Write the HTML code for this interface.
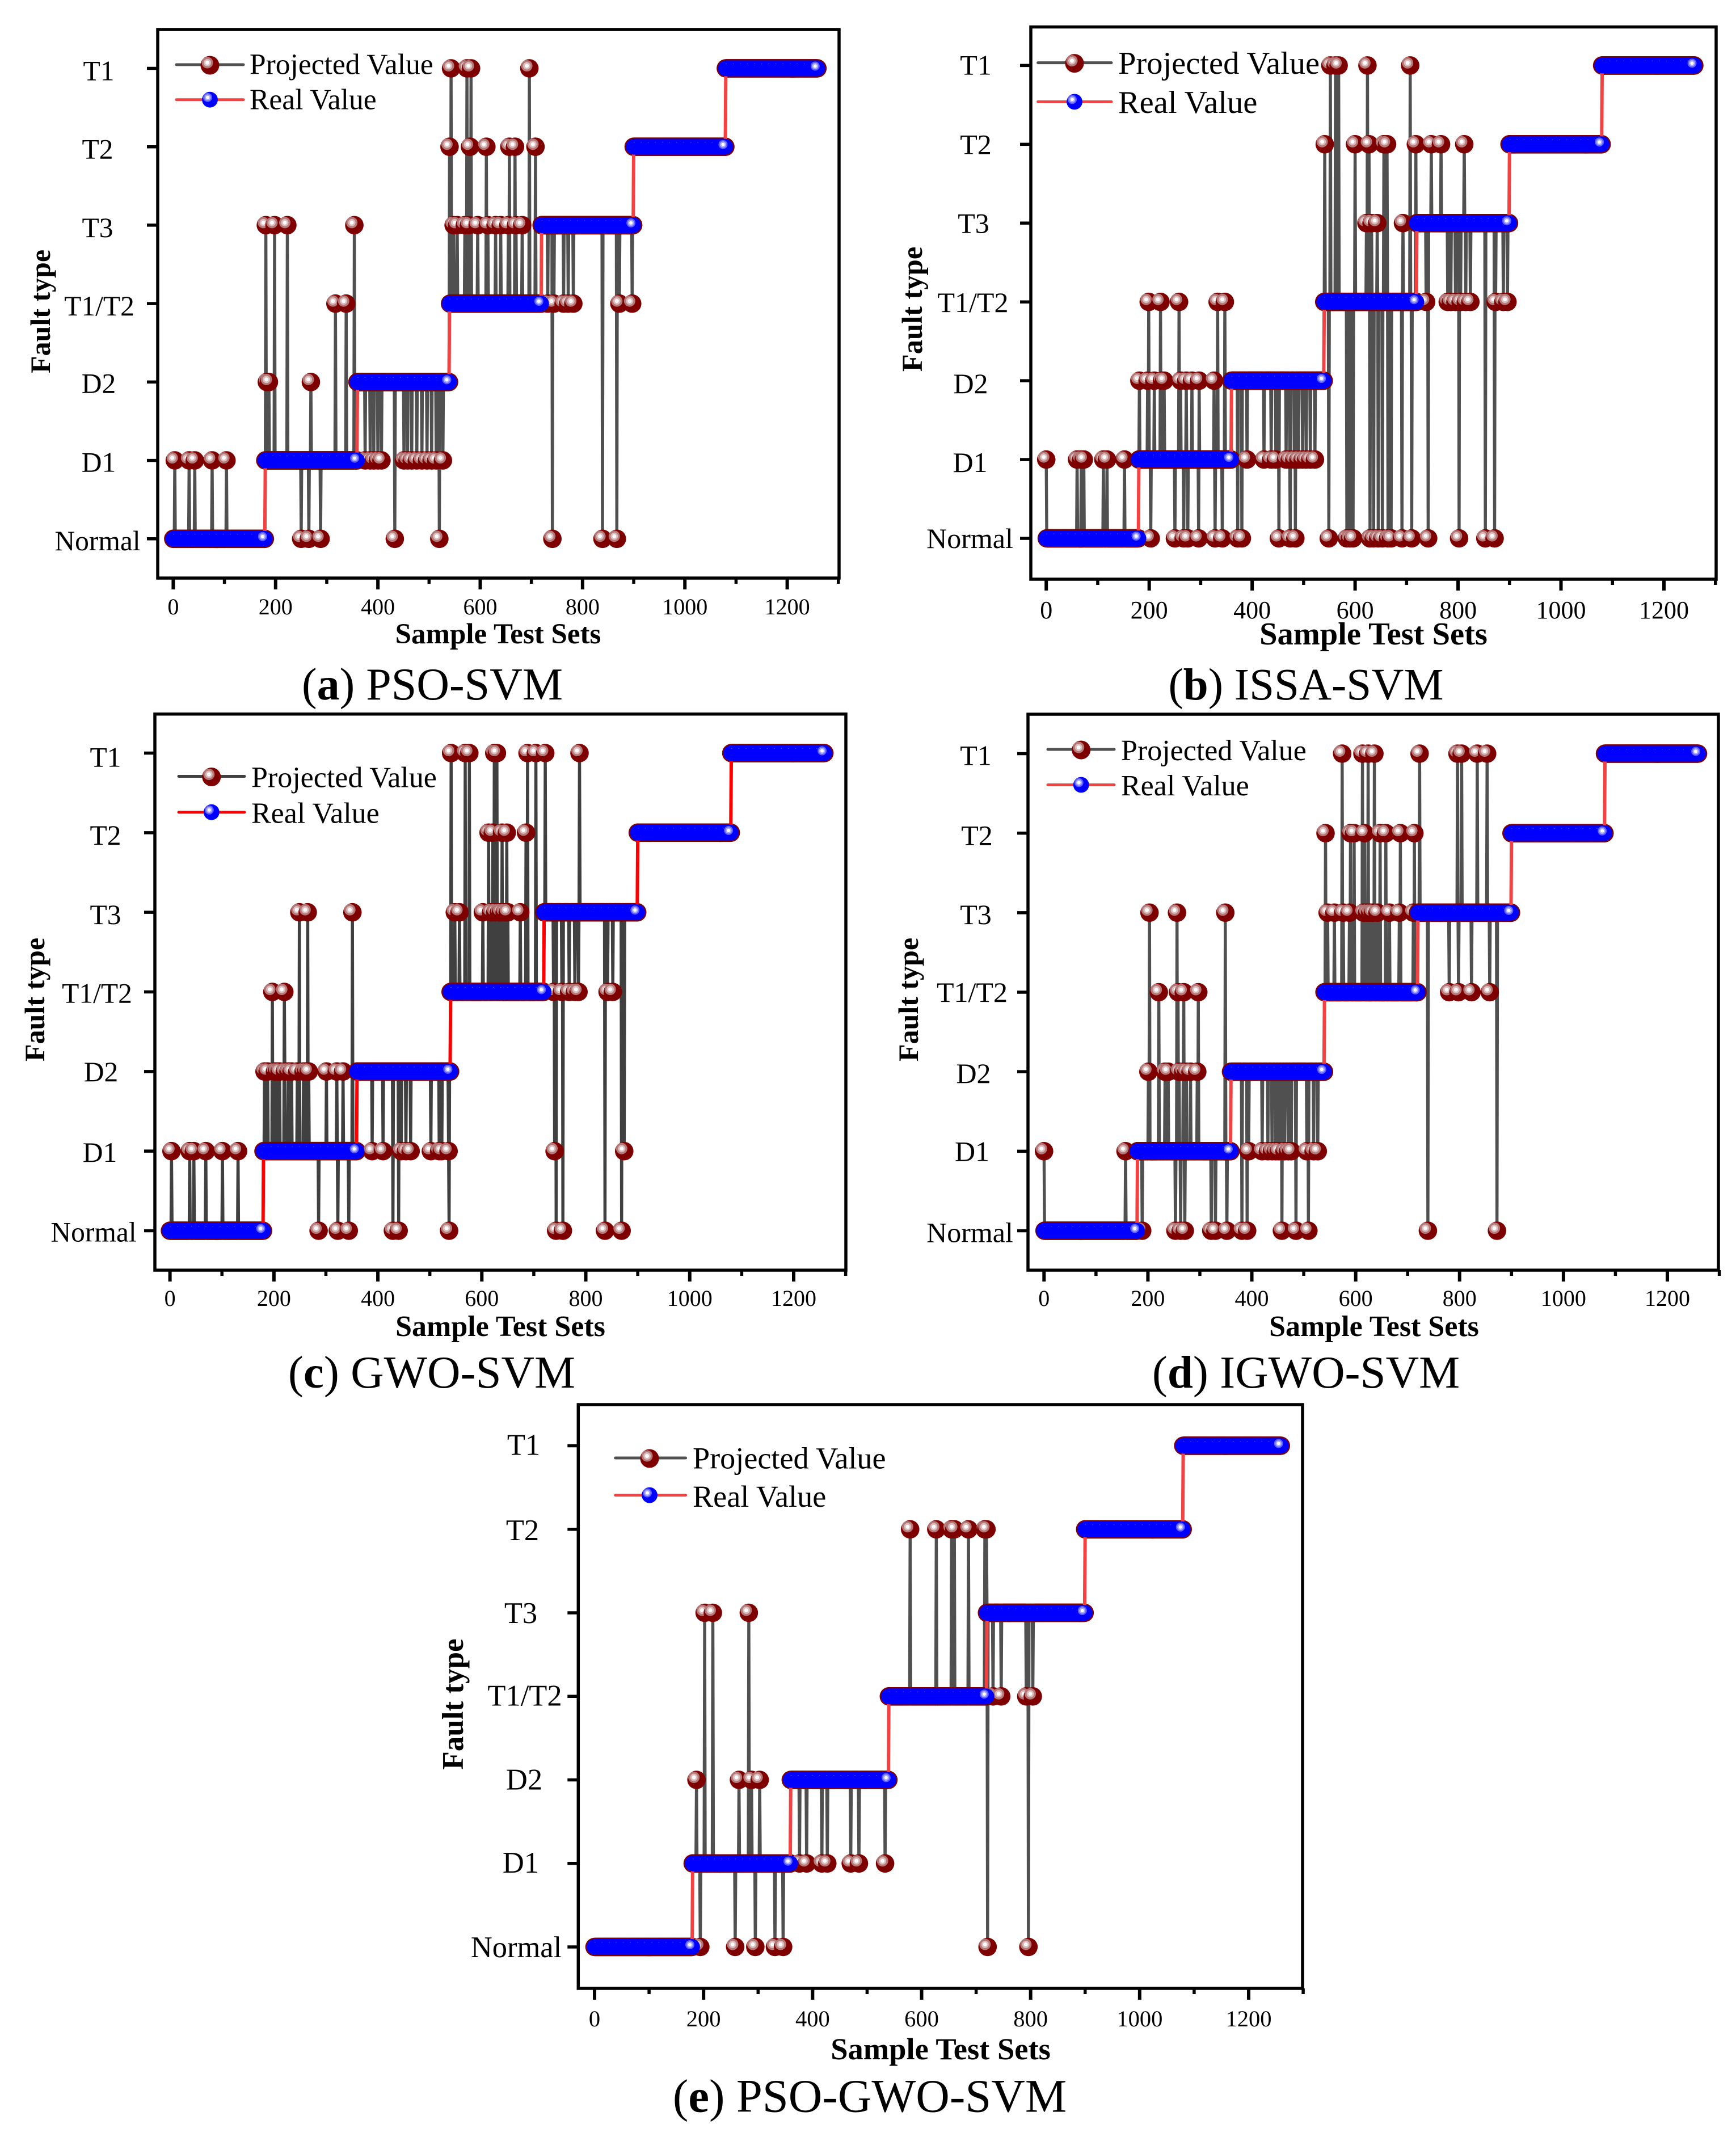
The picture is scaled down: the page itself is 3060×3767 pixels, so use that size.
<!DOCTYPE html>
<html lang="en">
<head>
<meta charset="utf-8">
<title>Fault diagnosis comparison</title>
<style>
html,body{margin:0;padding:0;background:#fff;width:3060px;height:3767px;overflow:hidden}
svg{display:block}
text{font-family:"Liberation Serif",serif;fill:#000}
</style>
</head>
<body>
<svg id="figure" xmlns="http://www.w3.org/2000/svg" width="3060" height="3767" viewBox="0 0 3060 3767"></svg>
<script>
// Shared axis data
const classLabels = ['Normal','D1','D2','T1/T2','T3','T2','T1'];
const xMajorTicks = [0,200,400,600,800,1000,1200];
const xMinorTicks = [100,300,500,700,900,1100,1300];
const realSegmentStarts = [0,180,360,540,720,900,1080];
const realSegmentEnds = [179,359,539,719,899,1079,1259];
const realSegmentClasses = [0,1,2,3,4,5,6];

// PSO-SVM misclassified samples by predicted class
const aNormal = [250,265,288,433,466,520,741,839,867];
const aD1 = [3,31,42,76,104,375,385,392,400,407,451,458,466,476,486,496,505,514,527];
const aD2 = [183,187,269];
const aT1T2 = [317,338,732,744,763,772,782,872,897];
const aT3 = [181,198,223,354,543,548,555,570,578,595,615,630,640,655,670,682];
const aT2 = [540,580,612,657,668,708];
const aT1 = [543,574,582,696];

// ISSA-SVM
const bNormal = [203,250,267,275,296,328,342,372,380,452,474,484,549,584,590,596,629,636,645,653,664,670,691,710,742,802,853,871];
const bD1 = [0,60,68,73,111,118,152,390,423,437,446,466,473,482,490,498,505,513,522];
const bD2 = [181,197,210,225,229,261,272,283,297,326];
const bT1T2 = [199,222,258,333,347,738,780,786,795,805,815,824,873,888,896];
const bT3 = [622,632,643,693];
const bT2 = [541,600,627,656,662,718,748,767,812];
const bT1 = [552,562,568,624,707];

// GWO-SVM
const cNormal = [286,323,344,429,440,537,743,756,837,869];
const cD1 = [3,38,46,69,101,131,389,410,445,454,463,502,518,523,536,740,874];
const cD2 = [182,188,202,206,211,221,228,234,245,257,262,267,301,321,333];
const cT1T2 = [197,220,738,754,768,779,786,842,852];
const cT3 = [249,265,351,548,557,602,618,626,633,637,644,650,674];
const cT2 = [613,621,639,648,685];
const cT1 = [541,568,576,624,629,688,704,722,788];

// IGWO-SVM
const dNormal = [189,253,263,271,322,330,352,381,391,458,485,509,739,872];
const dD1 = [0,157,394,420,431,439,446,452,463,470,476,506,519,527];
const dD2 = [201,233,239,260,268,274,282,295];
const dT1T2 = [221,258,269,297,780,798,823,858];
const dT3 = [203,256,349,546,559,576,588,615,622,628,633,642,665,684,711];
const dT2 = [542,590,597,617,647,658,686,713];
const dT1 = [574,613,624,636,723,796,804,834,853];

// PSO-GWO-SVM
const eNormal = [194,258,295,331,346,721,796];
const eD1 = [376,389,417,427,470,485,533];
const eD2 = [187,265,288,303];
const eT1T2 = [731,746,792,804];
const eT3 = [202,217,283];
const eT2 = [579,627,655,660,686,716,719];
const eT1 = [];

const panels = [
 {id:'pso-svm', letter:'a', method:' PSO-SVM', dev:[aNormal,aD1,aD2,aT1T2,aT3,aT2,aT1],
  box:[278,52,1479,1019], x0:305.4, x1200:1387.6, yTop:120.5, yBot:949.8, grey:'#505050', red:'#f44242',
  yFont:49.5, xFont:40, xBase:1083, titleFont:51, titleX:878, titleBase:1134,
  faultFont:50, faultX:88, faultY:549, capFont:80, capX:762, capBase:1233,
  yLabelX:[172,174,174,175,172,172,174], yLabelDy:[20,20,19,21,21,21,21],
  leg:{x1:311,x2:429,m:370,tx:440,y1:114,y2:175.7,b1:130.7,b2:192.7,font:51.5}},
 {id:'issa-svm', letter:'b', method:' ISSA-SVM', dev:[bNormal,bD1,bD2,bT1T2,bT3,bT2,bT1],
  box:[1817,47.5,3025,1021], x0:1844.2, x1200:2933, yTop:115.4, yBot:949, grey:'#505050', red:'#f44242',
  yFont:50, xFont:44, xBase:1090, titleFont:56.5, titleX:2421, titleBase:1136,
  faultFont:50.5, faultX:1625, faultY:545, capFont:79, capX:2302, capBase:1233,
  yLabelX:[1709.5,1710,1711,1715,1716,1720,1720], yLabelDy:[17,22,22,18,17,17,16],
  leg:{x1:1829.6,x2:1959,m:1894,tx:1971,y1:110.6,y2:179.4,b1:130,b2:199,font:56.5}},
 {id:'gwo-svm', letter:'c', method:' GWO-SVM', dev:[cNormal,cD1,cD2,cT1T2,cT3,cT2,cT1],
  box:[273,1258.7,1491,2239], x0:299.6, x1200:1399, yTop:1327.5, yBot:2169.5, grey:'#404040', red:'#ff0000',
  yFont:49.5, xFont:40, xBase:2302, titleFont:52, titleX:882, titleBase:2355,
  faultFont:50, faultX:78, faultY:1762, capFont:81, capX:761, capBase:2446,
  yLabelX:[165,176,178,171,186,186,186], yLabelDy:[19,19,17,19,21,21,24],
  leg:{x1:315,x2:431,m:372.8,tx:443,y1:1368.5,y2:1431.7,b1:1387.5,b2:1450.7,font:52}},
 {id:'igwo-svm', letter:'d', method:' IGWO-SVM', dev:[dNormal,dD1,dD2,dT1T2,dT3,dT2,dT1],
  box:[1812,1259,3029,2239], x0:1840.3, x1200:2939, yTop:1328.5, yBot:2169.5, grey:'#505050', red:'#f44242',
  yFont:50, xFont:40, xBase:2302, titleFont:52, titleX:2422, titleBase:2355,
  faultFont:50, faultX:1618, faultY:1762, capFont:81, capX:2302, capBase:2446,
  yLabelX:[1709.5,1713.5,1716,1713.5,1720,1722,1720], yLabelDy:[20,17,20,17,20,21,20],
  leg:{x1:1847,x2:1964,m:1905.7,tx:1976,y1:1321,y2:1383.5,b1:1340,b2:1402,font:52}},
 {id:'pso-gwo-svm', letter:'e', method:' PSO-GWO-SVM', dev:[eNormal,eD1,eD2,eT1T2,eT3,eT2,eT1],
  box:[1019.3,2476,2296,3505], x0:1048, x1200:2201, yTop:2548.5, yBot:3432, grey:'#505050', red:'#f44242',
  yFont:52.5, xFont:40.5, xBase:3572, titleFont:54.5, titleX:1658, titleBase:3630,
  faultFont:53, faultX:816, faultY:3004, capFont:82.5, capX:1533, capBase:3722.6,
  yLabelX:[910,918,924,925,918,921,923], yLabelDy:[18,16,17,16,18,19,16],
  leg:{x1:1084.7,x2:1208.6,m:1145,tx:1221,y1:2570,y2:2635.6,b1:2588.6,b2:2656,font:54.2}}
];

const svgNS = 'http://www.w3.org/2000/svg';
const root = document.getElementById('figure');

function make(parent, tag, attrs, content) {
  const node = document.createElementNS(svgNS, tag);
  for (const k in attrs) node.setAttribute(k, attrs[k]);
  if (content !== undefined) node.textContent = content;
  parent.appendChild(node);
  return node;
}

function redHighlight(parent, x, y) {
  make(parent, 'circle', {cx:x-4.5, cy:y-4.5, r:10, fill:'#b47a7a'});
  make(parent, 'circle', {cx:x-4.5, cy:y-4.5, r:6.5, fill:'#dcbcbc'});
  make(parent, 'circle', {cx:x-4.5, cy:y-4.5, r:3.5, fill:'#ffffff'});
}

function blueHighlight(parent, x, y) {
  make(parent, 'circle', {cx:x-4, cy:y-4, r:8, fill:'#6060ff'});
  make(parent, 'circle', {cx:x-4, cy:y-4, r:5.5, fill:'#a8a8ff'});
  make(parent, 'circle', {cx:x-4, cy:y-4, r:3, fill:'#ffffff'});
}

function realClassAt(sample) {
  for (let i = 0; i < realSegmentStarts.length; i++) {
    if (sample >= realSegmentStarts[i] && sample <= realSegmentEnds[i]) return realSegmentClasses[i];
  }
  return 0;
}

panels.forEach(function (p) {
  const sx = v => p.x0 + v * (p.x1200 - p.x0) / 1200;
  const sy = c => p.yBot - c * (p.yBot - p.yTop) / 6;

  const g = make(root, 'g', {});
  
  

  // Merge deviations with real series
  const lastSample = realSegmentEnds[realSegmentEnds.length - 1];
  const real = [];
  for (let s = 0; s <= lastSample; s++) real.push(realClassAt(s));
  const projected = real.slice();
  const isDeviation = {};
  p.dev.forEach(function (samples, cls) {
    samples.forEach(function (s) {
      projected[s] = cls;
      isDeviation[s] = true;
    });
  });

  // Projected series
  const projGroup = make(g, 'g', {});
  
  
  const projLine = make(projGroup, 'path', {
    d: projected.map((c, s) => (s ? 'L' : 'M') + sx(s).toFixed(1) + ' ' + sy(c).toFixed(1)).join(''),
    fill:'none', stroke:p.grey, 'stroke-width':5.4, 'stroke-linejoin':'round'
  });
  
  
  projected.forEach(function (c, s) {
    const mark = make(projGroup, 'circle', {cx:sx(s).toFixed(1), cy:sy(c).toFixed(1), r:16.3, fill:'#7f0000'});
    
    
    if (isDeviation[s]) redHighlight(projGroup, sx(s), sy(c));
  });

  // Real series
  const realGroup = make(g, 'g', {});
  
  
  const realLine = make(realGroup, 'path', {
    d: real.map((c, s) => (s ? 'L' : 'M') + sx(s).toFixed(1) + ' ' + sy(c).toFixed(1)).join(''),
    fill:'none', stroke:p.red, 'stroke-width':6, 'stroke-linejoin':'round'
  });
  
  
  real.forEach(function (c, s) {
    const mark = make(realGroup, 'circle', {cx:sx(s).toFixed(1), cy:sy(c).toFixed(1), r:13.9, fill:'#0000ff'});
    
    
  });
  realSegmentEnds.forEach(function (end, i) {
    const y = sy(realSegmentClasses[i]);
    const glint = make(realGroup, 'line', {
      x1:sx(realSegmentStarts[i]).toFixed(1), y1:y-8, x2:sx(end-8).toFixed(1), y2:y-8,
      stroke:'#5a5aff', 'stroke-width':1, 'stroke-dasharray':'1.5 11'
    });
    
    
    blueHighlight(realGroup, sx(end), y);
  });

  // Frame
  const b = p.box;
  const frame = make(g, 'rect', {x:b[0], y:b[1], width:b[2]-b[0], height:b[3]-b[1], fill:'none', stroke:'#000', 'stroke-width':5.5});
  
  

  // X ticks
  xMajorTicks.forEach(function (v) {
    const t = make(g, 'line', {x1:sx(v), x2:sx(v), y1:b[3], y2:b[3]+20, stroke:'#000', 'stroke-width':6});
    
    
    const l = make(g, 'text', {x:sx(v), y:p.xBase, 'font-size':p.xFont, 'text-anchor':'middle'}, String(v));
    
    
  });
  xMinorTicks.forEach(function (v) {
    const t = make(g, 'line', {x1:sx(v), x2:sx(v), y1:b[3], y2:b[3]+10, stroke:'#000', 'stroke-width':5.5});
    
    
  });

  // Y ticks
  classLabels.forEach(function (name, c) {
    const y = sy(c);
    const t = make(g, 'line', {x1:b[0], x2:b[0]-19, y1:y, y2:y, stroke:'#000', 'stroke-width':5.5});
    
    
    const l = make(g, 'text', {x:p.yLabelX[c], y:y+p.yLabelDy[c], 'font-size':p.yFont, 'text-anchor':'middle'}, name);
    
    
  });

  // Axis titles
  const xTitle = make(g, 'text', {x:p.titleX, y:p.titleBase, 'font-size':p.titleFont, 'font-weight':'bold', 'text-anchor':'middle'}, 'Sample Test Sets');
  
  
  const yTitle = make(g, 'text', {transform:'translate(' + p.faultX + ' ' + p.faultY + ') rotate(-90)', 'font-size':p.faultFont, 'font-weight':'bold', 'text-anchor':'middle'}, 'Fault type');
  
  

  // Legend
  const L = p.leg;
  const legend = make(g, 'g', {});
  
  
  const line1 = make(legend, 'line', {x1:L.x1, x2:L.x2, y1:L.y1, y2:L.y1, stroke:p.grey, 'stroke-width':5, 'stroke-linecap':'round'});
  
  
  const m1 = make(legend, 'circle', {cx:L.m, cy:L.y1+1, r:16.5, fill:'#7f0000'});
  
  
  redHighlight(legend, L.m, L.y1+1);
  const t1 = make(legend, 'text', {x:L.tx, y:L.b1, 'font-size':L.font}, 'Projected Value');
  
  
  const line2 = make(legend, 'line', {x1:L.x1, x2:L.x2, y1:L.y2, y2:L.y2, stroke:p.red, 'stroke-width':5, 'stroke-linecap':'round'});
  
  
  const m2 = make(legend, 'circle', {cx:L.m, cy:L.y2, r:13.9, fill:'#0000ff'});
  
  
  blueHighlight(legend, L.m, L.y2);
  const t2 = make(legend, 'text', {x:L.tx, y:L.b2, 'font-size':L.font}, 'Real Value');
  
  

  // Caption
  const cap = make(g, 'text', {x:p.capX, y:p.capBase, 'font-size':p.capFont, 'text-anchor':'middle'});
  
  
  make(cap, 'tspan', {}, '(');
  make(cap, 'tspan', {'font-weight':'bold'}, p.letter);
  make(cap, 'tspan', {}, ')' + p.method);
});
</script>
</body>
</html>
